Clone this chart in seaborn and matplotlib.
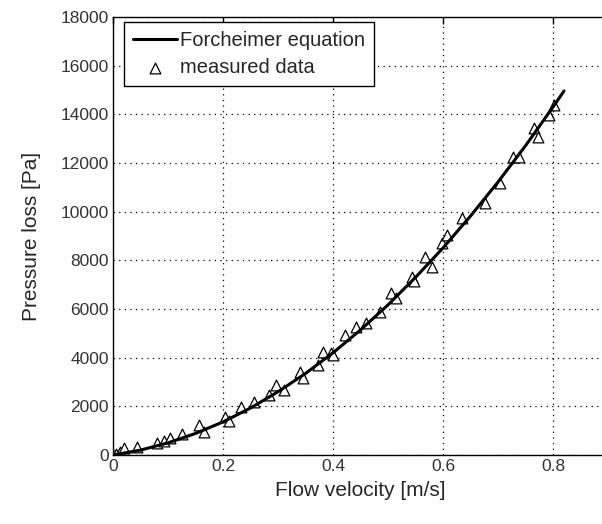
import matplotlib
matplotlib.use("Agg")
import matplotlib.pyplot as plt
import seaborn as sns
import pandas as pd

# Forcheimer equation curve
fit_v = [0.0, 0.05, 0.10, 0.15, 0.20, 0.25, 0.30, 0.35, 0.40, 0.45, 0.50,
         0.55, 0.60, 0.65, 0.70, 0.75, 0.80, 0.82]
fit_dp = [0, 200, 500, 885, 1360, 1930, 2600, 3350, 4200, 5140, 6170,
          7300, 8510, 9820, 11220, 12710, 14300, 14960]

meas_v = [0.0, 0.005, 0.012, 0.02, 0.043, 0.08, 0.092, 0.103, 0.126, 0.157,
          0.166, 0.204, 0.21, 0.232, 0.256, 0.283, 0.297, 0.31, 0.34, 0.346,
          0.373, 0.382, 0.396, 0.40, 0.422, 0.441, 0.46, 0.486, 0.505, 0.514,
          0.544, 0.548, 0.567, 0.58, 0.598, 0.607, 0.634, 0.676, 0.703, 0.728,
          0.739, 0.766, 0.773, 0.793, 0.802]
meas_dp = [0, 60, 120, 290, 330, 490, 580, 700, 860, 1230,
           950, 1560, 1400, 1970, 2180, 2470, 2880, 2670, 3410, 3160,
           3700, 4230, 4190, 4110, 4930, 5260, 5420, 5880, 6660, 6450,
           7320, 7150, 8140, 7730, 8710, 9040, 9740, 10360, 11180, 12250,
           12250, 13440, 13070, 13970, 14380]

sns.set_style("white")
plt.rcParams['font.family'] = ['Liberation Sans', 'DejaVu Sans']

fig = plt.figure(figsize=(6.02, 5.24), dpi=100)
ax = fig.add_axes([113 / 602, 69 / 524, 1 - 113 / 602 + 0.01, 438 / 524])

fit_df = pd.DataFrame({"v": fit_v, "dp": fit_dp})
meas_df = pd.DataFrame({"v": meas_v, "dp": meas_dp})

sns.lineplot(data=fit_df, x="v", y="dp", ax=ax, color="black", lw=2.2,
             label="Forcheimer equation", zorder=3)
sns.scatterplot(data=meas_df, x="v", y="dp", ax=ax, marker="^", s=60,
                facecolor="white", edgecolor="black", linewidth=0.9,
                label="measured data", zorder=2)

ax.set_xlim(0, 0.9)
ax.set_ylim(0, 18000)
ax.set_xticks([0, 0.2, 0.4, 0.6, 0.8])
ax.set_xticklabels(["0", "0.2", "0.4", "0.6", "0.8"])
ax.set_yticks(range(0, 18001, 2000))
ax.set_yticklabels([str(v) for v in range(0, 18001, 2000)])

ax.grid(True, color="black", linestyle=(0, (1, 3.5)), linewidth=0.9)
ax.tick_params(direction="in", length=5, width=1, top=True, right=False,
               labelsize=12.5, pad=3, colors="black")
ax.tick_params(labelcolor="#333333")
for side in ["left", "bottom", "top"]:
    ax.spines[side].set_color("black")
    ax.spines[side].set_linewidth(1.0)
ax.spines["right"].set_visible(False)

ax.set_xlabel("Flow velocity [m/s]", fontsize=15, labelpad=5)
ax.set_ylabel("Pressure loss [Pa]", fontsize=15, labelpad=14)

leg = ax.legend(loc="upper left", bbox_to_anchor=(0.022, 0.988), fontsize=14.5,
                frameon=True, fancybox=False, edgecolor="black",
                handlelength=2.2, borderpad=0.45, labelspacing=0.4,
                handletextpad=0.15, borderaxespad=0)
leg.get_frame().set_linewidth(1.0)
leg.get_frame().set_alpha(1)

fig.savefig("out.png", dpi=100)
